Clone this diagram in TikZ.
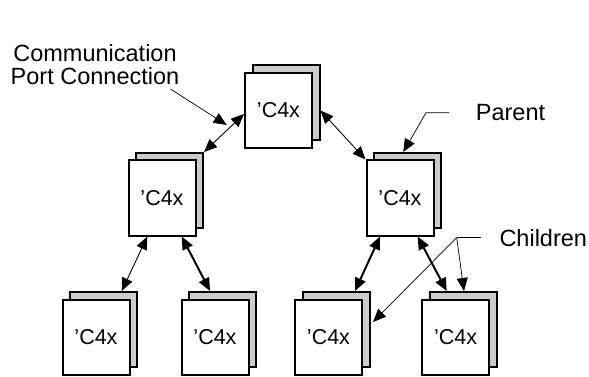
\documentclass[tikz,border=0pt]{standalone}
\usepackage{fontspec}
\setmainfont{Liberation Sans}
\usetikzlibrary{arrows.meta,shadows}

\begin{document}
\begin{tikzpicture}[x=1pt, y=-1pt, >={Triangle[length=13pt,width=11pt]}, line join=miter,
	chip/.style={draw, line width=2pt, fill=white, minimum width=67pt, minimum height=75pt,
		inner sep=0pt, font=\fontsize{21.5}{22}\selectfont,
		copy shadow={shadow xshift=7.5pt, shadow yshift=7.5pt, fill=gray!40, draw, line width=2pt}},
	port/.style={<->, line width=0.9pt},
	wideport/.style={<->, line width=2pt},
	pointer/.style={->, line width=0.7pt},
	label/.style={inner sep=0pt, font=\fontsize{23.5}{22.3}\selectfont}]
	% -------- Frame --------
	\useasboundingbox (0,0) rectangle (589,377);
	
	% -------- Processors (front sheet + grey copy behind) --------
	\node[chip] (top)  at (278.5,110.5) {'C4x};
	\node[chip] (lmid) at (162,198)     {'C4x};
	\node[chip] (rmid) at (400,198)     {'C4x};
	\node[chip] (b1)   at (96,337)      {'C4x};
	\node[chip] (b2)   at (215,337)     {'C4x};
	\node[chip] (b3)   at (328.5,337)   {'C4x};
	\node[chip] (b4)   at (455.5,337)   {'C4x};
	
	% -------- Port links --------
	\draw[port] ([yshift=-3.5pt]top.west) -- ([xshift=7.5pt,yshift=7.5pt]lmid.north east);
	\draw[port] ([xshift=7.5pt]top.east) -- (rmid.north west);
	\draw[port] ([xshift=-14.7pt]lmid.south) -- ([xshift=25.7pt,yshift=7.5pt]b1.north);
	\draw[wideport] ([xshift=19.7pt]lmid.south) -- ([xshift=-5pt,yshift=7.5pt]b2.north);
	\draw[wideport] ([xshift=-20pt]rmid.south) -- ([xshift=26.5pt,yshift=7.5pt]b3.north);
	\draw[wideport] ([xshift=17.7pt]rmid.south) -- ([xshift=-8.8pt,yshift=7.5pt]b4.north);
	
	% -------- Labels --------
	\node[label, align=center, anchor=south] (comm) at (95,84.5) {Communication\\Port Connection};
	\node[label, anchor=base west] (parent) at (475.7,120.7) {Parent};
	\node[label, anchor=base west] (children) at (499.3,246) {Children};
	
	% pointers
	\coordinate (linkpt) at (226.7,125);
	\draw[pointer] ([xshift=-9pt,yshift=-4.5pt]comm.south east) -- (linkpt);
	\draw[pointer] ([xshift=-26.7pt]parent.west) -- ++(-23,0) -- ([xshift=3.3pt,yshift=7.5pt]rmid.north);
	\draw[line width=0.7pt] ([xshift=-18.6pt]children.west) -- ([xshift=-42.6pt]children.west) coordinate (fork);
	\draw[pointer] (fork) -- ([xshift=10pt,yshift=15pt]b3.east);
	\draw[pointer] (fork) -- ([xshift=8.5pt,yshift=7.5pt]b4.north);
\end{tikzpicture}
\end{document}
